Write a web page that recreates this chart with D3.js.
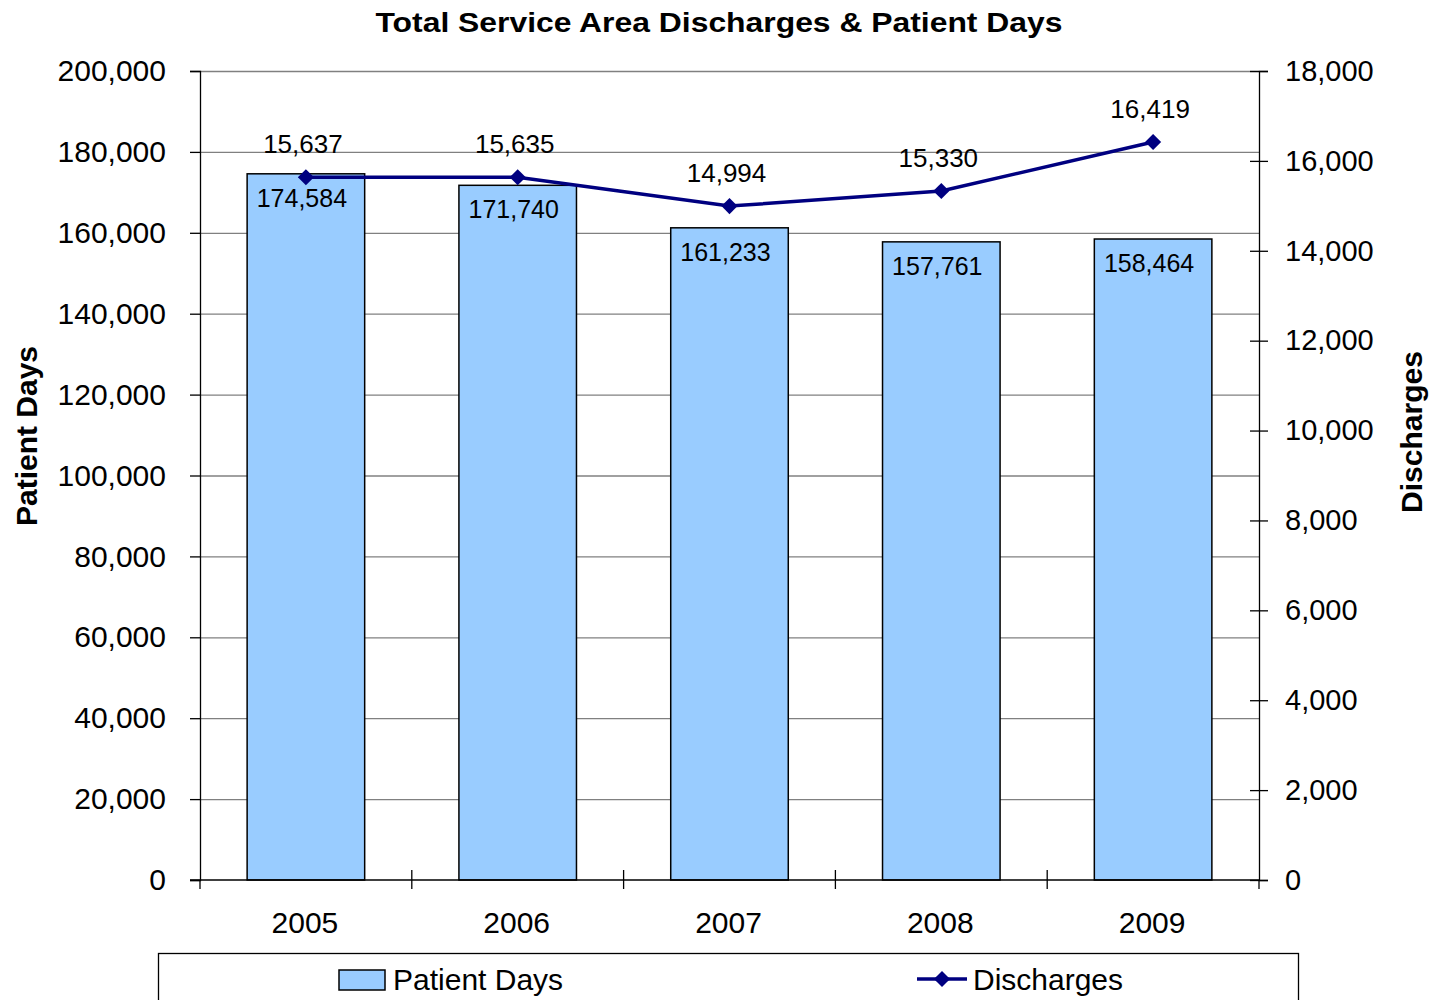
<!DOCTYPE html>
<html>
<head>
<meta charset="utf-8">
<script src="https://cdn.jsdelivr.net/npm/d3@7"></script>
<style>
  body { margin: 0; background: #fff; }
  svg text { font-family: "Liberation Sans", Arial, sans-serif; fill: #000; }
</style>
</head>
<body>
<script>
const years = ["2005", "2006", "2007", "2008", "2009"];
const patientDays = [174584, 171740, 161233, 157761, 158464];
const discharges = [15637, 15635, 14994, 15330, 16419];
const leftTicks = [0, 20000, 40000, 60000, 80000, 100000, 120000, 140000, 160000, 180000, 200000];
const rightTicks = [0, 2000, 4000, 6000, 8000, 10000, 12000, 14000, 16000, 18000];

const width = 1439;
const height = 1000;
const plotLeft = 200, plotRight = 1259, plotTop = 71, plotBottom = 880;
const fmt = d3.format(",");

const svg = d3.select("body").append("svg")
  .attr("width", width)
  .attr("height", height);

const x = d3.scaleBand().domain(years).range([plotLeft, plotRight]);
const yL = d3.scaleLinear().domain([0, 200000]).range([plotBottom, plotTop]);
const yR = d3.scaleLinear().domain([0, 18000]).range([plotBottom, plotTop]);

// gridlines
svg.append("g")
  .selectAll("line")
  .data(leftTicks.slice(1))
  .enter()
  .append("line")
  .attr("x1", plotLeft)
  .attr("x2", plotRight)
  .attr("y1", (d) => yL(d) + 0.5)
  .attr("y2", (d) => yL(d) + 0.5)
  .attr("stroke", "#808080")
  .attr("stroke-width", 1.3);

// bars
const barW = x.bandwidth() * 0.555;
svg.append("g")
  .selectAll("rect")
  .data(patientDays)
  .enter()
  .append("rect")
  .attr("x", (d, i) => x(years[i]) + (x.bandwidth() - barW) / 2)
  .attr("y", (d) => yL(d))
  .attr("width", barW)
  .attr("height", (d) => plotBottom - yL(d))
  .attr("fill", "#99ccff")
  .attr("stroke", "#000")
  .attr("stroke-width", 1.5);

// axes
const leftAxis = d3.axisLeft(yL).tickValues(leftTicks).tickFormat(fmt).tickSize(10).tickPadding(24);
const gL = svg.append("g").attr("transform", `translate(${plotLeft},0)`).call(leftAxis);
gL.select(".domain").attr("stroke", "#000").attr("stroke-width", 1.3);
gL.selectAll(".tick line").attr("stroke", "#000").attr("stroke-width", 1.3);
gL.selectAll("text").style("font-size", "30px");

const rightAxis = d3.axisRight(yR).tickValues(rightTicks).tickFormat(fmt).tickSize(9).tickPadding(17);
const gR = svg.append("g").attr("transform", `translate(${plotRight},0)`).call(rightAxis);
gR.select(".domain").attr("stroke", "#000").attr("stroke-width", 1.3);
gR.selectAll(".tick line").attr("x1", -9).attr("stroke", "#000").attr("stroke-width", 1.3);
gR.selectAll("text").style("font-size", "29px");

// category axis
svg.append("line")
  .attr("x1", plotLeft - 10).attr("x2", plotRight)
  .attr("y1", plotBottom).attr("y2", plotBottom)
  .attr("stroke", "#000").attr("stroke-width", 1.5);
const bounds = years.map((d) => x(d)).concat([plotRight]);
svg.append("g")
  .selectAll("line")
  .data(bounds)
  .enter()
  .append("line")
  .attr("x1", (d) => d).attr("x2", (d) => d)
  .attr("y1", (d, i) => (i === 0 || i === bounds.length - 1) ? plotBottom : plotBottom - 10)
  .attr("y2", plotBottom + 9)
  .attr("stroke", "#000").attr("stroke-width", 1.3);
svg.append("g")
  .selectAll("text")
  .data(years)
  .enter()
  .append("text")
  .attr("x", (d) => x(d) + x.bandwidth() / 2 - 1)
  .attr("y", 933)
  .attr("text-anchor", "middle")
  .style("font-size", "30px")
  .text((d) => d);

// bar labels
svg.append("g")
  .selectAll("text")
  .data(patientDays)
  .enter()
  .append("text")
  .attr("x", (d, i) => x(years[i]) + x.bandwidth() / 2 - 4)
  .attr("y", (d) => yL(d) + 33)
  .attr("text-anchor", "middle")
  .style("font-size", "25px")
  .text((d) => fmt(d));

// discharge line
const line = d3.line()
  .x((d, i) => x(years[i]) + x.bandwidth() / 2)
  .y((d) => yR(d));
svg.append("path")
  .datum(discharges)
  .attr("d", line)
  .attr("fill", "none")
  .attr("stroke", "#000080")
  .attr("stroke-width", 3.5);

const diamond = d3.symbol().type(d3.symbolSquare).size(130);
svg.append("g")
  .selectAll("path")
  .data(discharges)
  .enter()
  .append("path")
  .attr("d", diamond)
  .attr("transform", (d, i) => `translate(${x(years[i]) + x.bandwidth() / 2},${yR(d)}) rotate(45)`)
  .attr("fill", "#000080");

svg.append("g")
  .selectAll("text")
  .data(discharges)
  .enter()
  .append("text")
  .attr("x", (d, i) => x(years[i]) + x.bandwidth() / 2 - 3)
  .attr("y", (d) => yR(d) - 24)
  .attr("text-anchor", "middle")
  .style("font-size", "26px")
  .text((d) => fmt(d));

// title and axis titles
svg.append("text")
  .attr("x", 719).attr("y", 32)
  .attr("text-anchor", "middle")
  .attr("textLength", 687)
  .attr("lengthAdjust", "spacingAndGlyphs")
  .style("font-size", "28px").style("font-weight", "bold")
  .text("Total Service Area Discharges & Patient Days");

svg.append("text")
  .attr("transform", "translate(37,436) rotate(-90)")
  .attr("text-anchor", "middle")
  .style("font-size", "30px").style("font-weight", "bold")
  .text("Patient Days");

svg.append("text")
  .attr("transform", "translate(1422,432) rotate(-90)")
  .attr("text-anchor", "middle")
  .style("font-size", "30px").style("font-weight", "bold")
  .text("Discharges");

// legend
svg.append("rect")
  .attr("x", 158.5).attr("y", 953.5)
  .attr("width", 1140).attr("height", 60)
  .attr("fill", "#fff").attr("stroke", "#000").attr("stroke-width", 1.3);

svg.append("rect")
  .attr("x", 339).attr("y", 970)
  .attr("width", 46).attr("height", 20)
  .attr("fill", "#99ccff").attr("stroke", "#000").attr("stroke-width", 1.5);
svg.append("text")
  .attr("x", 393).attr("y", 990)
  .style("font-size", "30px")
  .text("Patient Days");

svg.append("line")
  .attr("x1", 917).attr("x2", 967)
  .attr("y1", 979).attr("y2", 979)
  .attr("stroke", "#000080").attr("stroke-width", 3.5);
svg.append("path")
  .attr("d", diamond)
  .attr("transform", "translate(942,979) rotate(45)")
  .attr("fill", "#000080");
svg.append("text")
  .attr("x", 973).attr("y", 990)
  .style("font-size", "30px")
  .text("Discharges");
</script>
</body>
</html>
